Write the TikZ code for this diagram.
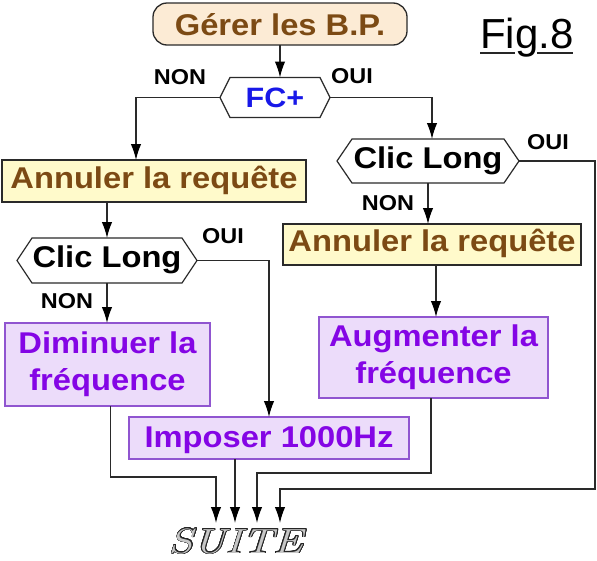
\documentclass[tikz,border=0pt]{standalone}
\usepackage{fontspec}
\usepackage{contour}
\contourlength{0.55pt}
\contournumber{24}
\newfontfamily\ab{Liberation Sans}[FakeStretch=1.09]
\newfontfamily\ar{Liberation Sans}
\usetikzlibrary{arrows.meta,calc}
\definecolor{lc}{HTML}{2A2A2A}
\definecolor{peach}{HTML}{FCEBD5}
\definecolor{yel}{HTML}{FFFACB}
\definecolor{purF}{HTML}{ECDCFA}
\definecolor{purB}{HTML}{9055D0}
\definecolor{purT}{HTML}{8405E5}
\definecolor{fcblue}{HTML}{1818E8}
\definecolor{brn}{HTML}{7C4A14}
\begin{document}
\begin{tikzpicture}[x=1pt,y=-1pt,
  base/.style={inner sep=0pt, outer sep=0pt, align=center},
  big/.style={font=\ab\bfseries\fontsize{30}{37}\selectfont},
  gerbox/.style={base, big, draw=lc, line width=1.3pt, fill=peach, rounded corners=14pt,
     text=brn, text height=22pt, text depth=0pt},
  annbox/.style={base, big, draw=lc, line width=1.2pt, fill=yel, text=brn,
     text height=22pt, text depth=8pt},
  hexn/.style={base, big, text=black, text height=22pt, text depth=8pt},
  hexline/.style={draw=lc, line width=1.2pt, line join=miter},
  purbox/.style={base, big, draw=purB, line width=1.2pt, fill=purF, text=purT},
  lab/.style={base, font=\ab\bfseries\fontsize{21.5}{21.5}\selectfont, text=black},
  wire/.style={draw=lc, line width=1.4pt},
  arr/.style={wire, -{Latex[length=16pt,width=10.5pt,color=black]}}
]
\fill[white] (0,0) rectangle (597,560);
\useasboundingbox (0,0) rectangle (597,560);

% nodes
\node[gerbox, minimum width=254, minimum height=42] (ger) at (280,24) {Gérer les B.P.};
\node[hexn, text=fcblue, font=\ab\bfseries\fontsize{28}{28}\selectfont,
      minimum width=110, minimum height=40, text height=20pt, text depth=0pt] (fc) at (275,97.5) {FC+};
\node[annbox, minimum width=304, minimum height=42] (ann1) at (154,181) {Annuler la requête};
\node[hexn, minimum width=182, minimum height=44] (cl2) at (428,161) {Clic Long};
\node[annbox, minimum width=298, minimum height=41] (ann2) at (432,244.5) {Annuler la requête};
\node[hexn, minimum width=180, minimum height=45] (cl1) at (107,260.5) {Clic Long};
\node[purbox, minimum width=205, minimum height=83] (dim) at (107.5,364.5) {Diminuer la\\fréquence};
\node[purbox, minimum width=229, minimum height=81] (aug) at (433.5,357.5) {Augmenter la\\fréquence};
\node[purbox, minimum width=280, minimum height=42, text height=22pt, text depth=4pt] (imp) at (269,438) {Imposer 1000Hz};

% hexagon outlines
\draw[hexline] (fc.west) -- ($(fc.north west)+(10,0)$) -- ($(fc.north east)+(-10,0)$) -- (fc.east)
   -- ($(fc.south east)+(-10,0)$) -- ($(fc.south west)+(10,0)$) -- cycle;
\draw[hexline] (cl1.west) -- ($(cl1.north west)+(15,0)$) -- ($(cl1.north east)+(-15,0)$) -- (cl1.east)
   -- ($(cl1.south east)+(-15,0)$) -- ($(cl1.south west)+(15,0)$) -- cycle;
\draw[hexline] (cl2.west) -- ($(cl2.north west)+(15,0)$) -- ($(cl2.north east)+(-15,0)$) -- (cl2.east)
   -- ($(cl2.south east)+(-15,0)$) -- ($(cl2.south west)+(15,0)$) -- cycle;

% labels
\node[lab] (non1) at (180,77) {NON};
\node[lab] (oui1) at (352,76) {OUI};
\node[lab] (oui2) at (548,142) {OUI};
\node[lab] (non2) at (388,203) {NON};
\node[lab] (oui3) at (223,236) {OUI};
\node[lab] (non3) at (67,301) {NON};

% Fig.8
\node[inner sep=0pt, anchor=base west, font=\ar\fontsize{42}{42}\selectfont] (fig) at (480,48) {Fig.8};
\draw[line width=2.6pt, black!85] ($(fig.base west)+(0,5)$) -- ++(35,0);
\draw[line width=2.6pt, black!85] ($(fig.base west)+(57,5)$) -- ++(36,0);

% SUITE
\node[inner sep=0pt, anchor=base] (suite) at (236,553)
  {\scalebox{1.27}[1]{\fontsize{35}{35}\selectfont\itshape
   \contour{black!85}{\textcolor{black!22}{SUITE}}}};
\coordinate (s1) at (216,523);
\coordinate (s2) at (235,523);
\coordinate (s3) at (257,523);
\coordinate (s4) at (280,523);
\coordinate (rc) at (595,489);

% connectors
\draw[arr] (ger.south) -- (ger.south |- fc.north);
\draw[arr] (fc.west) -| ([xshift=-18pt]ann1.north);
\draw[arr] (fc.east) -| ([xshift=4pt]cl2.north);
\draw[arr] (cl1.north |- ann1.south) -- (cl1.north);
\draw[arr] (cl2.south) -- (cl2.south |- ann2.north);
\draw[arr] ([xshift=4pt]ann2.south) -- ([xshift=4pt]ann2.south |- aug.north);
\draw[arr] (cl1.east) -| (imp.north);
\draw[arr] (cl1.south) -- (cl1.south |- dim.north);
\draw[arr] ([xshift=3pt]dim.south) |- ($(s1)+(0,-46)$) -- (s1);
\draw[arr] (imp.south -| s2) -- (s2);
\draw[arr] ([xshift=-2.5pt]aug.south) |- ($(s3)+(0,-50)$) -- (s3);
\draw[arr] (cl2.east) -| (rc) -| (s4);
\end{tikzpicture}
\end{document}
